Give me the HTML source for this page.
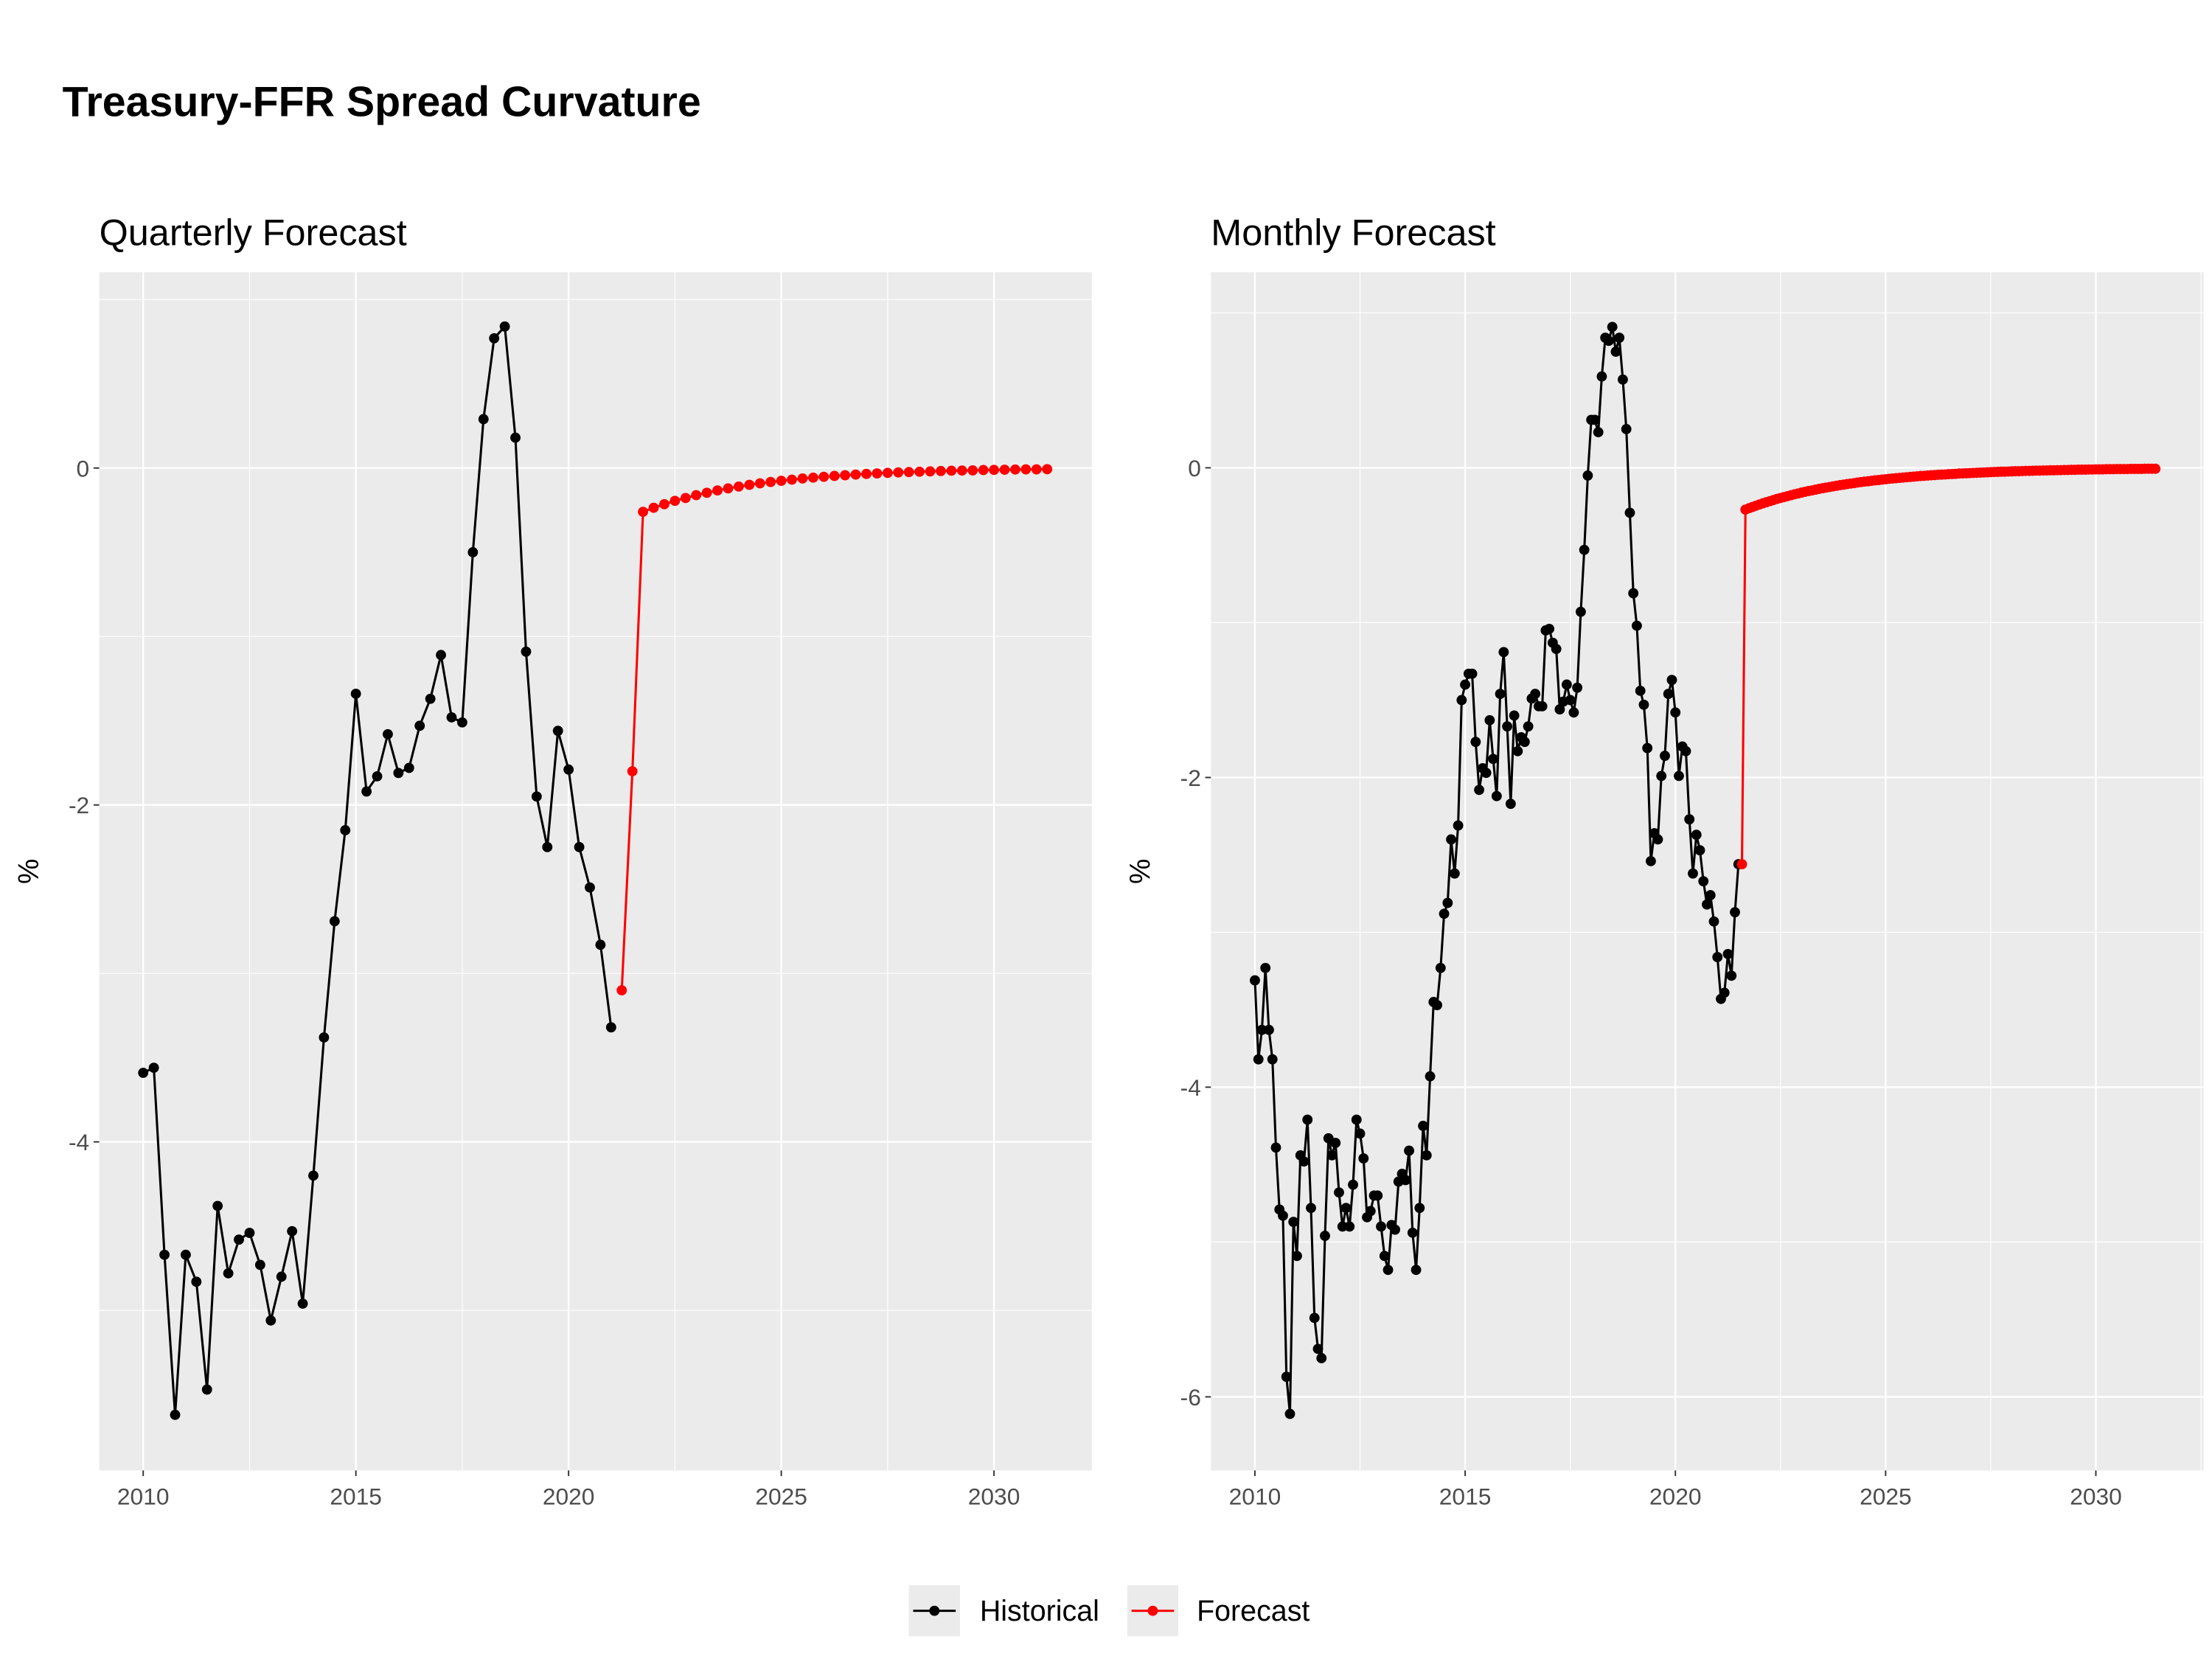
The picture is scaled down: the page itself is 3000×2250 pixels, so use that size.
<!DOCTYPE html>
<html><head><meta charset="utf-8">
<style>html,body{margin:0;padding:0;background:#fff}svg{display:block}</style>
</head><body>
<svg id="chart" width="3000" height="2250" viewBox="0 0 1560 1170" xmlns="http://www.w3.org/2000/svg" font-family="'Liberation Sans', Arial, sans-serif">
<rect x="0" y="0" width="1560" height="1170" fill="#fff"/>
<text x="44" y="82" font-size="29.8" font-weight="bold" fill="#000">Treasury-FFR Spread Curvature</text>
<g id="legend">
 <g>
  <rect x="641" y="1118" width="36" height="36" fill="#ebebeb"/>
  <line x1="644" y1="1136" x2="674" y2="1136" stroke="#000" stroke-width="1.6"/>
  <circle cx="659" cy="1136" r="3.6" fill="#000"/>
  <text x="691" y="1143" font-size="20.5" fill="#000">Historical</text>
 </g>
 <g>
  <rect x="795" y="1118" width="36" height="36" fill="#ebebeb"/>
  <line x1="798" y1="1136" x2="828" y2="1136" stroke="#f00" stroke-width="1.6"/>
  <circle cx="813" cy="1136" r="3.6" fill="#f00"/>
  <text x="844" y="1143" font-size="20.5" fill="#000">Forecast</text>
 </g>
</g>
</svg>
<script>
const qHist = [-3.59,-3.56,-4.67,-5.62,-4.67,-4.83,-5.47,-4.38,-4.78,-4.58,-4.54,-4.73,-5.06,-4.80,-4.53,-4.96,-4.20,-3.38,-2.69,-2.15,-1.34,-1.92,-1.83,-1.58,-1.81,-1.78,-1.53,-1.37,-1.11,-1.48,-1.51,-0.50,0.29,0.77,0.84,0.18,-1.09,-1.95,-2.25,-1.56,-1.79,-2.25,-2.49,-2.83,-3.32];
const qFore = [-3.10,-1.80,-0.260,-0.236,-0.215,-0.195,-0.178,-0.161,-0.147,-0.133,-0.121,-0.110,-0.100,-0.091,-0.083,-0.076,-0.069,-0.062,-0.057,-0.052,-0.047,-0.043,-0.039,-0.035,-0.032,-0.029,-0.026,-0.024,-0.022,-0.020,-0.018,-0.016,-0.015,-0.014,-0.012,-0.011,-0.010,-0.009,-0.008,-0.008,-0.007];
const mHist = [-3.31,-3.82,-3.63,-3.23,-3.63,-3.82,-4.39,-4.79,-4.83,-5.87,-6.11,-4.87,-5.09,-4.44,-4.48,-4.21,-4.78,-5.49,-5.69,-5.75,-4.96,-4.33,-4.44,-4.36,-4.68,-4.90,-4.78,-4.90,-4.63,-4.21,-4.30,-4.46,-4.84,-4.80,-4.70,-4.70,-4.90,-5.09,-5.18,-4.89,-4.92,-4.61,-4.56,-4.60,-4.41,-4.94,-5.18,-4.78,-4.25,-4.44,-3.93,-3.45,-3.47,-3.23,-2.88,-2.81,-2.40,-2.62,-2.31,-1.50,-1.40,-1.33,-1.33,-1.77,-2.08,-1.94,-1.97,-1.63,-1.88,-2.12,-1.46,-1.19,-1.67,-2.17,-1.60,-1.83,-1.74,-1.77,-1.67,-1.49,-1.46,-1.54,-1.54,-1.05,-1.04,-1.13,-1.17,-1.56,-1.51,-1.40,-1.50,-1.58,-1.42,-0.93,-0.53,-0.05,0.31,0.31,0.23,0.59,0.84,0.82,0.91,0.75,0.84,0.57,0.25,-0.29,-0.81,-1.02,-1.44,-1.53,-1.81,-2.54,-2.36,-2.40,-1.99,-1.86,-1.46,-1.37,-1.58,-1.99,-1.80,-1.83,-2.27,-2.62,-2.37,-2.47,-2.67,-2.82,-2.76,-2.93,-3.16,-3.43,-3.39,-3.14,-3.28,-2.87,-2.56];
const mFore = [-2.56,-0.270,-0.261,-0.253,-0.245,-0.237,-0.229,-0.222,-0.215,-0.208,-0.201,-0.195,-0.189,-0.183,-0.177,-0.171,-0.166,-0.160,-0.155,-0.150,-0.146,-0.141,-0.136,-0.132,-0.128,-0.124,-0.120,-0.116,-0.112,-0.109,-0.105,-0.102,-0.099,-0.095,-0.092,-0.089,-0.087,-0.084,-0.081,-0.079,-0.076,-0.074,-0.071,-0.069,-0.067,-0.065,-0.063,-0.061,-0.059,-0.057,-0.055,-0.053,-0.052,-0.050,-0.048,-0.047,-0.045,-0.044,-0.043,-0.041,-0.040,-0.039,-0.037,-0.036,-0.035,-0.034,-0.033,-0.032,-0.031,-0.030,-0.029,-0.028,-0.027,-0.026,-0.025,-0.025,-0.024,-0.023,-0.022,-0.022,-0.021,-0.020,-0.020,-0.019,-0.018,-0.018,-0.017,-0.017,-0.016,-0.016,-0.015,-0.015,-0.014,-0.014,-0.013,-0.013,-0.012,-0.012,-0.012,-0.011,-0.011,-0.010,-0.010,-0.010,-0.009,-0.009,-0.009,-0.008,-0.008,-0.008,-0.008,-0.007,-0.007,-0.007,-0.007,-0.006,-0.006,-0.006,-0.006];
const xTicks = [2010,2015,2020,2025,2030];
const qYTicks = [0,-2,-4];
const mYTicks = [0,-2,-4,-6];

const NS = 'http://www.w3.org/2000/svg';
const svg = document.getElementById('chart');
function mk(tag, attrs, parent){const e=document.createElementNS(NS,tag);for(const k in attrs)e.setAttribute(k,attrs[k]);parent.appendChild(e);return e;}

function panel(opt){
  const g = mk('g',{},svg);
  
  
  const L=opt.left,R=opt.left+700,T=192,B=1037;
  const sx = v => L + (v-opt.x0)/(opt.x1-opt.x0)*(R-L);
  const sy = v => T + (opt.y1-v)/(opt.y1-opt.y0)*(B-T);
  const bg = mk('rect',{x:L,y:T,width:R-L,height:B-T,fill:'#ebebeb'},g);
  
  
  for(let v=Math.ceil(opt.x0/5)*5-2.5; v<opt.x1; v+=5){ if(v>opt.x0) mk('line',{x1:sx(v),x2:sx(v),y1:T,y2:B,stroke:'#fff','stroke-width':0.6},g); }
  for(let v=Math.floor(opt.y1); v>opt.y0; v--){ if(Math.abs(v)%2===1) mk('line',{x1:L,x2:R,y1:sy(v),y2:sy(v),stroke:'#fff','stroke-width':0.6},g); }
  xTicks.forEach(t=>{
    mk('line',{x1:sx(t),x2:sx(t),y1:T,y2:B,stroke:'#fff','stroke-width':1.2},g);
    mk('line',{x1:sx(t),x2:sx(t),y1:B,y2:B+4,stroke:'#333','stroke-width':1},g);
    const tx = mk('text',{x:sx(t),y:B+24,'font-size':16.5,fill:'#4d4d4d','text-anchor':'middle'},g);
    tx.textContent = t;
    
    
  });
  opt.yTicks.forEach(t=>{
    mk('line',{x1:L,x2:R,y1:sy(t),y2:sy(t),stroke:'#fff','stroke-width':1.2},g);
    mk('line',{x1:L-4,x2:L,y1:sy(t),y2:sy(t),stroke:'#333','stroke-width':1},g);
    const tx = mk('text',{x:L-7,y:sy(t)+6,'font-size':16.5,fill:'#4d4d4d','text-anchor':'end'},g);
    tx.textContent = t===0?'0':'-'+Math.abs(t);
    
    
  });
  const yt = mk('text',{x:0,y:0,'font-size':20,fill:'#000','text-anchor':'middle',transform:`translate(${L-43},${(T+B)/2}) rotate(-90)`},g);
  yt.textContent='%';
  
  
  const st = mk('text',{x:L,y:173,'font-size':26.2,fill:'#000'},g);
  st.textContent=opt.title;
  
  
  function series(vals, start, color, nm){
    const sg = mk('g',{},g);
    
    
    const pts = vals.map((v,i)=>[sx(start+i*opt.step), sy(v)]);
    mk('polyline',{points:pts.map(p=>p.join(',')).join(' '),fill:'none',stroke:color,'stroke-width':1.6},sg);
    pts.forEach(p=>{
      const c = mk('circle',{cx:p[0],cy:p[1],r:3.6,fill:color},sg);
      
      
    });
  }
  series(opt.hist, 2010, '#000', 'historical-series');
  series(opt.fore, opt.foreStart, '#f00', 'forecast-series');
}
panel({name:'quarterly-panel',title:'Quarterly Forecast',left:70,x0:2008.967,x1:2032.3,y0:-5.95,y1:1.162,yTicks:qYTicks,step:0.25,hist:qHist,fore:qFore,foreStart:2021.25});
panel({name:'monthly-panel',title:'Monthly Forecast',left:854,x0:2008.954,x1:2032.56,y0:-6.475,y1:1.263,yTicks:mYTicks,step:1/12,hist:mHist,fore:mFore,foreStart:2010+139/12});
svg.appendChild(document.getElementById('legend'));
</script>
</body></html>
